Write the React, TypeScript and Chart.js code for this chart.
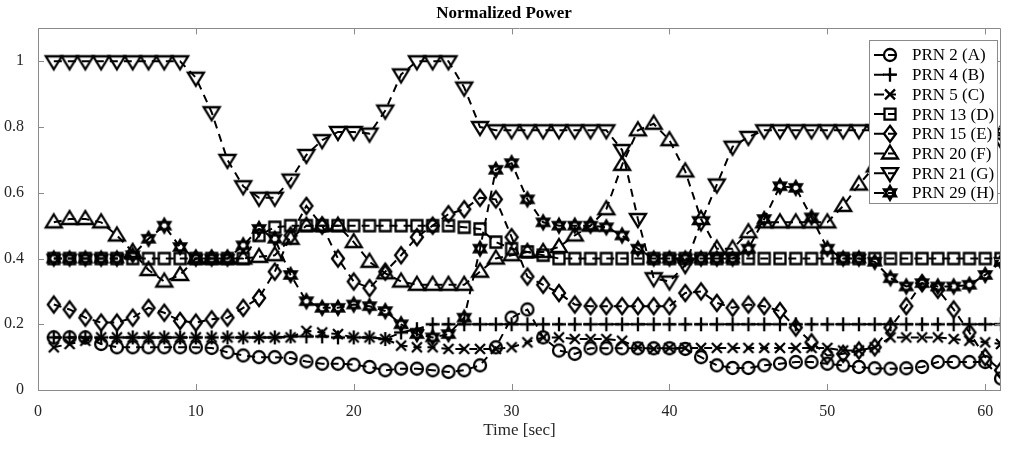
import React, { useEffect, useRef } from 'react';
import { Chart, registerables } from 'chart.js';

Chart.register(...registerables);

const timeSec: number[] = Array.from({ length: 61 }, (_, i) => i + 1);

const prn2A = [0.16, 0.16, 0.16, 0.14, 0.13, 0.13, 0.13, 0.13, 0.13, 0.13,
  0.128, 0.115, 0.105, 0.1, 0.1, 0.097, 0.087, 0.08, 0.08, 0.077,
  0.07, 0.06, 0.065, 0.065, 0.06, 0.055, 0.06, 0.075, 0.13, 0.22,
  0.245, 0.16, 0.12, 0.11, 0.127, 0.127, 0.127, 0.127, 0.127, 0.127,
  0.125, 0.1, 0.075, 0.067, 0.067, 0.075, 0.08, 0.085, 0.085, 0.08,
  0.075, 0.07, 0.066, 0.065, 0.066, 0.07, 0.085, 0.085, 0.085, 0.085, 0.035];

const prn4B = [0.16, 0.16, 0.16, 0.16, 0.16, 0.16, 0.16, 0.16, 0.16, 0.16,
  0.16, 0.16, 0.16, 0.16, 0.16, 0.163, 0.163, 0.163, 0.16, 0.16,
  0.16, 0.155, 0.175, 0.185, 0.2, 0.2, 0.2, 0.2, 0.2, 0.2,
  0.2, 0.2, 0.2, 0.2, 0.2, 0.2, 0.2, 0.2, 0.2, 0.2,
  0.2, 0.2, 0.2, 0.2, 0.2, 0.2, 0.2, 0.2, 0.2, 0.2,
  0.2, 0.2, 0.2, 0.2, 0.2, 0.2, 0.2, 0.2, 0.2, 0.2, 0.2];

const prn5C = [0.13, 0.14, 0.15, 0.16, 0.16, 0.16, 0.16, 0.16, 0.16, 0.16,
  0.16, 0.16, 0.16, 0.16, 0.16, 0.16, 0.18, 0.175, 0.17, 0.16,
  0.16, 0.155, 0.135, 0.13, 0.13, 0.125, 0.125, 0.125, 0.125, 0.13,
  0.145, 0.16, 0.16, 0.155, 0.155, 0.155, 0.15, 0.13, 0.125, 0.128,
  0.128, 0.128, 0.128, 0.128, 0.128, 0.128, 0.128, 0.128, 0.128, 0.128,
  0.12, 0.12, 0.13, 0.16, 0.16, 0.16, 0.16, 0.155, 0.15, 0.145, 0.14];

const prn13D = [0.4, 0.4, 0.4, 0.4, 0.4, 0.4, 0.4, 0.4, 0.4, 0.4,
  0.4, 0.4, 0.4, 0.47, 0.495, 0.5, 0.5, 0.5, 0.5, 0.5,
  0.5, 0.5, 0.5, 0.5, 0.5, 0.5, 0.495, 0.49, 0.45, 0.43,
  0.42, 0.41, 0.4, 0.4, 0.4, 0.4, 0.4, 0.4, 0.4, 0.4,
  0.4, 0.4, 0.4, 0.4, 0.4, 0.4, 0.4, 0.4, 0.4, 0.4,
  0.4, 0.4, 0.4, 0.4, 0.4, 0.4, 0.4, 0.4, 0.4, 0.4, 0.4];

const prn15E = [0.26, 0.245, 0.22, 0.205, 0.205, 0.22, 0.25, 0.235, 0.21, 0.205,
  0.215, 0.22, 0.25, 0.28, 0.36, 0.47, 0.56, 0.5, 0.4, 0.33,
  0.31, 0.36, 0.41, 0.465, 0.5, 0.535, 0.55, 0.585, 0.58, 0.465,
  0.345, 0.32, 0.295, 0.26, 0.255, 0.255, 0.255, 0.255, 0.255, 0.255,
  0.295, 0.3, 0.265, 0.25, 0.26, 0.255, 0.24, 0.19, 0.145, 0.105,
  0.11, 0.12, 0.13, 0.19, 0.255, 0.325, 0.305, 0.245, 0.175, 0.1, 0.06];

const prn20F = [0.51, 0.52, 0.52, 0.51, 0.47, 0.42, 0.365, 0.33, 0.35, 0.4,
  0.4, 0.4, 0.4, 0.405, 0.41, 0.46, 0.5, 0.5, 0.5, 0.45,
  0.39, 0.355, 0.33, 0.32, 0.32, 0.32, 0.32, 0.36, 0.4, 0.41,
  0.42, 0.42, 0.435, 0.47, 0.5, 0.55, 0.685, 0.79, 0.81, 0.76,
  0.665, 0.52, 0.43, 0.43, 0.48, 0.51, 0.51, 0.51, 0.51, 0.51,
  0.56, 0.625, 0.68, 0.74, 0.78, 0.79, 0.8, 0.8, 0.8, 0.8, 0.78];

const prn21G = [1, 1, 1, 1, 1, 1, 1, 1, 1, 0.95,
  0.845, 0.7, 0.62, 0.585, 0.585, 0.64, 0.715, 0.76, 0.785, 0.785,
  0.78, 0.85, 0.96, 1, 1, 1, 0.92, 0.8, 0.79, 0.79,
  0.79, 0.79, 0.79, 0.79, 0.79, 0.79, 0.73, 0.52, 0.34, 0.33,
  0.38, 0.51, 0.625, 0.74, 0.77, 0.79, 0.79, 0.79, 0.79, 0.79,
  0.79, 0.79, 0.79, 0.79, 0.79, 0.79, 0.79, 0.79, 0.79, 0.79, 0.76];

const prn29H = [0.4, 0.4, 0.4, 0.4, 0.4, 0.41, 0.46, 0.5, 0.435, 0.4,
  0.4, 0.4, 0.44, 0.49, 0.46, 0.35, 0.27, 0.25, 0.25, 0.26,
  0.255, 0.24, 0.2, 0.17, 0.16, 0.17, 0.22, 0.43, 0.67, 0.69,
  0.58, 0.51, 0.5, 0.5, 0.5, 0.495, 0.47, 0.43, 0.4, 0.4,
  0.4, 0.4, 0.4, 0.4, 0.43, 0.52, 0.62, 0.615, 0.525, 0.43,
  0.4, 0.4, 0.39, 0.34, 0.315, 0.325, 0.315, 0.315, 0.32, 0.35, 0.39];

const seriesLabels = ['PRN 2 (A)', 'PRN 4 (B)', 'PRN 5 (C)', 'PRN 13 (D)', 'PRN 15 (E)', 'PRN 20 (F)', 'PRN 21 (G)', 'PRN 29 (H)'];
const seriesValues = [prn2A, prn4B, prn5C, prn13D, prn15E, prn20F, prn21G, prn29H];
const seriesMarkers = ['circle', 'plus', 'x', 'square', 'diamond', 'triUp', 'triDown', 'hexagram'];

const xTicks = [0, 10, 20, 30, 40, 50, 60];
const yTicks = [0, 0.2, 0.4, 0.6, 0.8, 1];

const FONT = "'Liberation Serif', 'Times New Roman', serif";
const AXIS_COLOR = '#8a8a8a';

function drawMarker(ctx: CanvasRenderingContext2D, type: string, x: number, y: number) {
  ctx.save();
  ctx.strokeStyle = '#000';
  ctx.lineWidth = 2.3;
  ctx.setLineDash([]);
  ctx.lineJoin = 'miter';
  ctx.beginPath();
  switch (type) {
    case 'circle':
      ctx.arc(x, y, 6, 0, Math.PI * 2);
      break;
    case 'plus':
      ctx.moveTo(x - 7, y); ctx.lineTo(x + 7, y);
      ctx.moveTo(x, y - 7); ctx.lineTo(x, y + 7);
      break;
    case 'x':
      ctx.moveTo(x - 5, y - 5); ctx.lineTo(x + 5, y + 5);
      ctx.moveTo(x + 5, y - 5); ctx.lineTo(x - 5, y + 5);
      break;
    case 'square':
      ctx.rect(x - 5.5, y - 5.5, 11, 11);
      break;
    case 'diamond':
      ctx.moveTo(x, y - 8); ctx.lineTo(x + 6, y); ctx.lineTo(x, y + 8); ctx.lineTo(x - 6, y); ctx.closePath();
      break;
    case 'triUp':
      ctx.moveTo(x, y - 8); ctx.lineTo(x + 8, y + 5); ctx.lineTo(x - 8, y + 5); ctx.closePath();
      break;
    case 'triDown':
      ctx.moveTo(x, y + 8); ctx.lineTo(x + 8, y - 5); ctx.lineTo(x - 8, y - 5); ctx.closePath();
      break;
    case 'hexagram': {
      const r = 7;
      for (let k = 0; k < 2; k++) {
        const base = k === 0 ? -Math.PI / 2 : Math.PI / 2;
        for (let j = 0; j < 3; j++) {
          const a = base + (j * 2 * Math.PI) / 3;
          const px = x + r * Math.cos(a);
          const py = y + r * Math.sin(a);
          if (j === 0) ctx.moveTo(px, py); else ctx.lineTo(px, py);
        }
        ctx.closePath();
      }
      break;
    }
  }
  ctx.stroke();
  ctx.restore();
}

function makeMarkerCanvas(type: string): HTMLCanvasElement {
  const c = document.createElement('canvas');
  c.width = 22;
  c.height = 22;
  const ctx = c.getContext('2d')!;
  drawMarker(ctx, type, 11, 11);
  return c;
}

const frameAndLegend = {
  id: 'frameAndLegend',
  afterDraw(chart: any) {
    const { ctx, chartArea } = chart;
    const { left, right, top, bottom } = chartArea;
    const xs = chart.scales.x;
    const ys = chart.scales.y;
    ctx.save();
    ctx.strokeStyle = AXIS_COLOR;
    ctx.lineWidth = 1;
    ctx.setLineDash([]);
    ctx.beginPath();
    ctx.rect(Math.round(left) + 0.5, Math.round(top) + 0.5, Math.round(right - left) - 1, Math.round(bottom - top));
    const tl = 6;
    xTicks.forEach((v) => {
      const px = Math.round(xs.getPixelForValue(v)) + 0.5;
      ctx.moveTo(px, bottom); ctx.lineTo(px, bottom - tl);
      ctx.moveTo(px, top); ctx.lineTo(px, top + tl);
    });
    yTicks.forEach((v) => {
      const py = Math.round(ys.getPixelForValue(v)) + 0.5;
      ctx.moveTo(left, py); ctx.lineTo(left + tl, py);
      ctx.moveTo(right, py); ctx.lineTo(right - tl, py);
    });
    ctx.stroke();

    // legend box
    const bx = 869, by = 40, bw = 128, bh = 163;
    ctx.fillStyle = '#fff';
    ctx.fillRect(bx, by, bw, bh);
    ctx.strokeStyle = AXIS_COLOR;
    ctx.strokeRect(bx + 0.5, by + 0.5, bw, bh);
    ctx.font = `17px ${FONT}`;
    ctx.fillStyle = '#000';
    ctx.textBaseline = 'middle';
    ctx.textAlign = 'left';
    seriesLabels.forEach((lab, i) => {
      const cy = 55 + i * 19.7;
      ctx.save();
      ctx.strokeStyle = '#000';
      ctx.lineWidth = 2;
      ctx.beginPath();
      ctx.moveTo(874, cy); ctx.lineTo(884, cy);
      ctx.moveTo(888, cy); ctx.lineTo(896, cy);
      ctx.stroke();
      ctx.restore();
      drawMarker(ctx, seriesMarkers[i], 890, cy);
      ctx.fillText(lab, 912, cy + 1);
    });
    ctx.restore();
  },
};

export default function App() {
  const ref = useRef<HTMLCanvasElement | null>(null);
  useEffect(() => {
    if (!ref.current) return;
    const datasets = seriesLabels.map((label, i) => ({
      label,
      data: timeSec.map((t, j) => ({ x: t, y: seriesValues[i][j] })),
      borderColor: '#000',
      backgroundColor: '#000',
      borderWidth: 2,
      borderDash: [8, 6],
      pointStyle: makeMarkerCanvas(seriesMarkers[i]),
      pointRadius: 7,
      tension: 0,
      fill: false,
    }));
    const chart = new Chart(ref.current, {
      type: 'line',
      data: { datasets },
      plugins: [frameAndLegend],
      options: {
        animation: false,
        responsive: false,
        maintainAspectRatio: false,
        layout: { padding: { left: 0, right: 2, top: 0, bottom: 0 } },
        plugins: {
          legend: { display: false },
          tooltip: { enabled: false },
          title: {
            display: true,
            text: 'Normalized Power',
            color: '#000',
            font: { family: FONT, size: 17, weight: 'bold' },
            padding: { top: 3, bottom: 5 },
          },
        },
        scales: {
          x: {
            type: 'linear',
            min: 0,
            max: 61,
            grid: { display: false },
            border: { display: false },
            afterBuildTicks: (s: any) => { s.ticks = xTicks.map((v) => ({ value: v })); },
            afterFit: (s: any) => { s.height = 60; },
            ticks: {
              color: '#262626',
              font: { family: FONT, size: 16 },
              padding: 4,
              maxRotation: 0,
              callback: (v: any) => String(v),
            },
            title: {
              display: true,
              text: 'Time [sec]',
              color: '#262626',
              font: { family: FONT, size: 17 },
              padding: { top: 0, bottom: 9 },
            },
          },
          y: {
            min: 0,
            max: 1.1,
            grid: { display: false },
            border: { display: false },
            afterBuildTicks: (s: any) => { s.ticks = yTicks.map((v) => ({ value: v })); },
            afterFit: (s: any) => { s.width = 38; },
            ticks: {
              color: '#262626',
              font: { family: FONT, size: 16 },
              padding: 6,
              callback: (v: any) => String(Math.round(Number(v) * 10) / 10),
            },
          },
        },
      } as any,
    });
    return () => chart.destroy();
  }, []);
  return (
    <div style={{ position: 'fixed', left: 0, top: 0, width: 1010, height: 450, background: '#fff' }}>
      <canvas ref={ref} width={1010} height={450} style={{ display: 'block', width: 1010, height: 450 }} />
    </div>
  );
}
